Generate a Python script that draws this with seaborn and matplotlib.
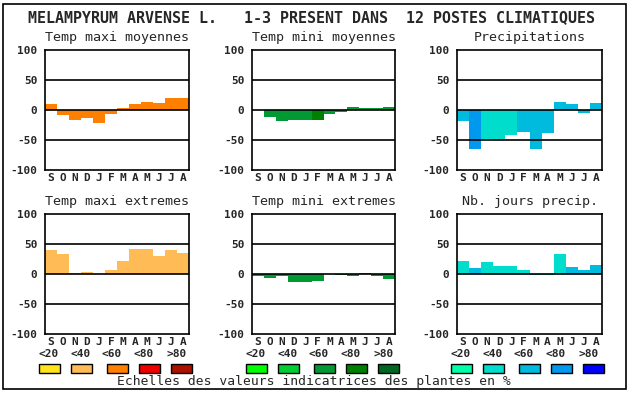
import pandas as pd
import numpy as np
import matplotlib
matplotlib.use("Agg")
import matplotlib.pyplot as plt
import seaborn as sns
from matplotlib.patches import Rectangle

# monthly deviations (S..A), one small list per panel + colour class (0..4)
months = ["S", "O", "N", "D", "J", "F", "M", "A", "M", "J", "J", "A"]

tmax_moy = [10, -8, -16, -14, -21, -6, 4, 10, 13, 12, 20, 20]
tmax_moy_cls = [2, 2, 2, 2, 2, 2, 2, 2, 2, 2, 2, 2]
tmin_moy = [0, -11, -18, -16, -16, -16, -6, -4, 5, 3, 3, 5]
tmin_moy_cls = [2, 2, 2, 2, 2, 3, 2, 2, 2, 2, 2, 2]
precip = [-18, -65, -48, -50, -42, -37, -65, -38, 13, 10, -5, 12]
precip_cls = [2, 3, 1, 1, 1, 2, 2, 2, 2, 2, 2, 2]
tmax_ext = [40, 33, 2, 3, 0, 7, 22, 42, 42, 30, 40, 35]
tmax_ext_cls = [1, 1, 1, 1, 1, 1, 1, 1, 1, 1, 1, 1]
tmin_ext = [-3, -6, -4, -14, -14, -11, 0, -2, -4, 2, -4, -8]
tmin_ext_cls = [2, 2, 2, 2, 2, 2, 2, 2, 2, 2, 2, 2]
jours = [22, 10, 20, 13, 13, 7, -2, -2, 33, 12, 7, 15]
jours_cls = [1, 2, 1, 1, 1, 1, 2, 1, 1, 2, 2, 2]

warm = ["#FFE41C", "#FFBB55", "#FF8000", "#EE0000", "#AA1100"]
greens = ["#00FF00", "#00CC33", "#009933", "#008000", "#006622"]
blues = ["#00FFAA", "#00DDCC", "#00BBDD", "#0099EE", "#0000FF"]
scale_labels = ["<20", "<40", "<60", "<80", ">80"]

panels = [
    ("Temp maxi moyennes", tmax_moy, tmax_moy_cls, warm),
    ("Temp mini moyennes", tmin_moy, tmin_moy_cls, greens),
    ("Precipitations", precip, precip_cls, blues),
    ("Temp maxi extremes", tmax_ext, tmax_ext_cls, warm),
    ("Temp mini extremes", tmin_ext, tmin_ext_cls, greens),
    ("Nb. jours precip.", jours, jours_cls, blues),
]

sns.set_style("white")
plt.rcParams["font.family"] = ["DejaVu Sans Mono", "DejaVu Sans"]

W, H = 630, 394
fig = plt.figure(figsize=(W / 100, H / 100), dpi=100)

col_left = [45, 252, 457]
col_w = [144, 143, 145]
row_top = [50, 214]
ax_h = 120

for i, (title, vals, cls, pal) in enumerate(panels):
    r, c = divmod(i, 3)
    x0, y0 = col_left[c], row_top[r]
    ax = fig.add_axes([x0 / W, (H - y0 - ax_h) / H, col_w[c] / W, ax_h / H])
    df = pd.DataFrame({"pos": np.arange(12), "val": vals, "cls": cls})
    sns.barplot(data=df, x="pos", y="val", hue="cls",
                palette={k: pal[k] for k in sorted(set(cls))},
                dodge=False, width=1.0, saturation=1, linewidth=0,
                legend=False, ax=ax)
    for yv in (-50, 0, 50):
        ax.axhline(yv, color="black", lw=1.2, zorder=5)
    ax.set_xlim(-0.5, 11.5)
    ax.set_ylim(-100, 100)
    ax.set_xticks(range(12))
    ax.set_xticklabels(months, fontsize=8, fontweight="bold")
    ax.set_yticks([-100, -50, 0, 50, 100])
    ax.set_yticklabels(["-100", "-50", "0", "50", "100"], fontsize=8, fontweight="bold")
    ax.tick_params(length=0, pad=2)
    ax.tick_params(axis="y", pad=5.5)
    ax.set_xlabel("")
    ax.set_ylabel("")
    for s in ax.spines.values():
        s.set_color("black")
        s.set_linewidth(1.2)
    ax.text(0.5, 1 + 12 / ax_h, title, transform=ax.transAxes,
            ha="center", va="center", fontsize=9.6)

    if r == 1:
        # colour scale under each column
        lab_dx = [4, 36, 67, 99, 132]
        box_dx = [-6, 26, 62, 94, 126]
        for k in range(5):
            fig.text((x0 + lab_dx[k]) / W, (H - 354) / H, scale_labels[k],
                     ha="center", va="center", fontsize=8, fontweight="bold")
            fig.add_artist(Rectangle(((x0 + box_dx[k]) / W, (H - 373) / H),
                                     21 / W, 9 / H, transform=fig.transFigure,
                                     facecolor=pal[k], edgecolor="black", lw=1))

fig.text(311 / W, (H - 18) / H,
         "MELAMPYRUM ARVENSE L.   1-3 PRESENT DANS  12 POSTES CLIMATIQUES",
         ha="center", va="center", fontsize=10.8, fontweight="bold")
fig.text(314 / W, (H - 382) / H, "Echelles des valeurs indicatrices des plantes en %",
         ha="center", va="center", fontsize=9.4)

fig.add_artist(Rectangle((3 / W, (H - 389) / H), 623 / W, 385 / H,
                         transform=fig.transFigure, fill=False,
                         edgecolor="black", lw=1.2))

fig.savefig("out.png", dpi=100)
